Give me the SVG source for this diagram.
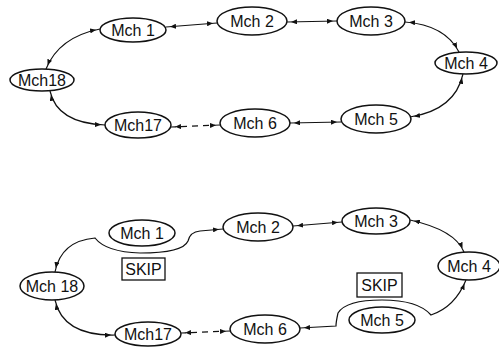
<svg xmlns="http://www.w3.org/2000/svg" width="499" height="347" viewBox="0 0 499 347">
<style>
.nd ellipse{fill:#fff;stroke:#111;stroke-width:1.5}
.nd text,.sk text{font-family:"Liberation Sans",Arial,sans-serif;font-size:16px;fill:#111;text-anchor:middle}
.sk rect{fill:none;stroke:#111;stroke-width:1.3}
#connectors path{fill:none;stroke:#111;stroke-width:1.2;marker-start:url(#ah);marker-end:url(#ah)}
#connectors .dash{stroke-dasharray:6 5}
</style>
<defs>
<marker id="ah" viewBox="0 0 10 5" refX="10" refY="2.5" markerWidth="10" markerHeight="5" markerUnits="userSpaceOnUse" orient="auto-start-reverse">
<path d="M0,0 L6,2.5 L0,5 z" fill="#111"/>
</marker>
</defs>
<rect width="499" height="347" fill="#fff"/>
<g id="connectors">
<path d="M46,69 Q59,37 100,29"/>
<path d="M166,27 L217,23"/>
<path d="M287,22 L337,21"/>
<path d="M405,22 Q445,25 459,52"/>
<path d="M463,74 Q455,110 410,117"/>
<path d="M341,122 L290,123"/>
<path class="dash" d="M220,125 L171,127"/>
<path d="M105,125 Q57,123 50,91"/>
<path d="M55,272 Q61,241 95,238 Q106,252 140,253 Q183,253 188,241 Q190,232 200,231 L223,229"/>
<path d="M293,226 L342,222"/>
<path d="M410,220 Q455,230 464,252"/>
<path d="M466,280 Q455,307 431,315 Q418,300 382,300 Q346,300 338,313 Q336,322 336,326 L300,328"/>
<path class="dash" d="M230,331 L181,333"/>
<path d="M115,335 Q63,336 55,300"/>
</g>
<g id="n1t" class="nd"><ellipse cx="133" cy="30" rx="33" ry="12"/><text x="133" y="36">Mch 1</text></g>
<g id="n2t" class="nd"><ellipse cx="252" cy="21" rx="35" ry="14"/><text x="252" y="27">Mch 2</text></g>
<g id="n3t" class="nd"><ellipse cx="371" cy="21" rx="34" ry="14"/><text x="371" y="27">Mch 3</text></g>
<g id="n4t" class="nd"><ellipse cx="466" cy="63" rx="31" ry="11"/><text x="466" y="69">Mch 4</text></g>
<g id="n5t" class="nd"><ellipse cx="376" cy="119" rx="35" ry="14"/><text x="376" y="125">Mch 5</text></g>
<g id="n6t" class="nd"><ellipse cx="255" cy="123" rx="35" ry="14"/><text x="255" y="129">Mch 6</text></g>
<g id="n17t" class="nd"><ellipse cx="138" cy="125" rx="33" ry="13"/><text x="138" y="131">Mch17</text></g>
<g id="n18t" class="nd"><ellipse cx="42" cy="80" rx="32" ry="11"/><text x="42" y="86">Mch18</text></g>
<g id="n1b" class="nd"><ellipse cx="142" cy="233" rx="33" ry="13"/><text x="142" y="239">Mch 1</text></g>
<g id="n2b" class="nd"><ellipse cx="258" cy="227" rx="35" ry="14"/><text x="258" y="233">Mch 2</text></g>
<g id="n3b" class="nd"><ellipse cx="376" cy="221" rx="34" ry="13"/><text x="376" y="227">Mch 3</text></g>
<g id="n4b" class="nd"><ellipse cx="469" cy="266" rx="31" ry="14"/><text x="469" y="272">Mch 4</text></g>
<g id="n5b" class="nd"><ellipse cx="382" cy="320" rx="33" ry="13"/><text x="382" y="326">Mch 5</text></g>
<g id="n6b" class="nd"><ellipse cx="265" cy="329" rx="35" ry="14"/><text x="265" y="335">Mch 6</text></g>
<g id="n17b" class="nd"><ellipse cx="148" cy="334" rx="33" ry="12"/><text x="148" y="340">Mch17</text></g>
<g id="n18b" class="nd"><ellipse cx="52" cy="286" rx="32" ry="14"/><text x="52" y="292">Mch 18</text></g>
<g id="skip1" class="sk"><rect x="122" y="258" width="43" height="22"/><text x="143.5" y="275">SKIP</text></g>
<g id="skip2" class="sk"><rect x="357" y="273" width="45" height="24"/><text x="379.5" y="291">SKIP</text></g>
</svg>
